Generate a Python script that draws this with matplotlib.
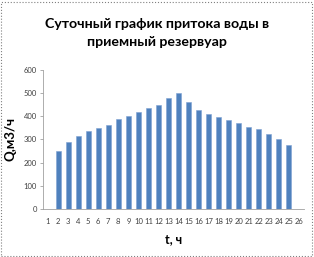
import numpy as np
import matplotlib.pyplot as plt
from matplotlib.patches import Rectangle

# hours on the category axis (1..26), first and last slot are empty
hours = list(range(1, 27))
flow = [0, 252, 290, 314, 337, 350, 361, 388, 401, 417, 436, 447, 477, 499,
        460, 425, 408, 397, 383, 370, 354, 344, 324, 302, 275, 0]
y_ticks = [0, 100, 200, 300, 400, 500, 600]

plt.rcParams['font.family'] = ['Lato', 'DejaVu Sans']

fig = plt.figure(figsize=(3.14, 2.57), dpi=100)
ax = fig.add_axes([0.137, 0.186, 0.831, 0.543])

pos = np.arange(len(hours))
ax.bar(pos, flow, width=0.5, color='#4F81BD', edgecolor='#7FA2D3', linewidth=0.4)

ax.set_xlim(-0.5, len(hours) - 0.5)
ax.set_ylim(0, 600)
ax.set_xticks(pos)
ax.set_xticklabels(hours, fontsize=5.5, color='#404040')
ax.set_yticks(y_ticks)
ax.set_yticklabels(y_ticks, fontsize=5.5, color='#404040')
ax.tick_params(axis='x', length=0, pad=6)
ax.tick_params(axis='y', length=2.5, width=0.6, color='#A0A0A0', pad=2)

for side in ['top', 'right']:
    ax.spines[side].set_visible(False)
ax.spines['left'].set_color('#A0A0A0')
ax.spines['bottom'].set_color('#A0A0A0')
ax.spines['left'].set_linewidth(0.6)
ax.spines['bottom'].set_linewidth(0.6)

ax.set_ylabel('Q,м3/ч', fontsize=9.5, fontweight='bold', labelpad=5)
ax.set_xlabel('t, ч', fontsize=9, fontweight='bold', labelpad=6)

fig.text(0.5, 0.872, 'Суточный график притока воды в\nприемный резервуар',
         ha='center', va='center', fontsize=10.2, fontweight='bold',
         linespacing=1.6)

# dotted chart border
fig.patches.append(Rectangle((0.003, 0.004), 0.99, 0.99, transform=fig.transFigure,
                             fill=False, edgecolor='#808080', linestyle=':', linewidth=0.8))

plt.savefig('out.png', dpi=100)
